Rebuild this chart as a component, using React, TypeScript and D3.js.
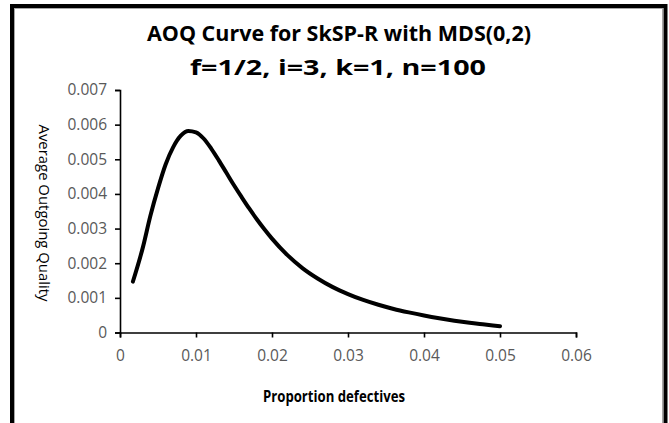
import React, { useEffect, useRef } from 'react';
import * as d3 from 'd3';

// values
const proportion = [
  0.0017, 0.003, 0.004, 0.005, 0.006, 0.007, 0.008, 0.009, 0.01, 0.011, 0.012, 0.013,
  0.014, 0.015, 0.016, 0.017, 0.018, 0.019, 0.02, 0.022, 0.024, 0.026, 0.028, 0.03, 0.032,
  0.034, 0.036, 0.038, 0.04, 0.042, 0.044, 0.046, 0.048, 0.05,
];
const aoq = [
  0.00147, 0.00245, 0.00337, 0.00416, 0.00485, 0.00535, 0.00568, 0.00582, 0.00578, 0.0056,
  0.00531, 0.00497, 0.00461, 0.00425, 0.00391, 0.00358, 0.00327, 0.00298, 0.00271, 0.00224,
  0.00186, 0.00156, 0.00131, 0.00111, 0.00094, 0.0008, 0.00068, 0.00058, 0.00049, 0.00041,
  0.00034, 0.00028, 0.00023, 0.00018,
];
const xTicks = [0, 0.01, 0.02, 0.03, 0.04, 0.05, 0.06];
const yTicks = [0, 0.001, 0.002, 0.003, 0.004, 0.005, 0.006, 0.007];
const titleLines = ['AOQ Curve for SkSP-R with MDS(0,2)', 'f=1/2, i=3, k=1, n=100'];
const xTitle = 'Proportion defectives';
const yTitle = 'Average Outgoing Quality';

const App = () => {
  const chart = useRef<SVGSVGElement>(null);

  useEffect(() => {
    const svg = d3.select(chart.current);
    svg.selectAll('*').remove();

    var width = 669,
      height = 423,
      left = 120,
      right = 576,
      top = 90,
      bottom = 332.5;

    // white page and double frame
    svg.append('rect').attr('width', width).attr('height', height).attr('fill', '#fff');
    svg
      .append('rect')
      .attr('x', 12)
      .attr('y', 6)
      .attr('width', 653.5)
      .attr('height', 430)
      .attr('fill', 'none')
      .attr('stroke', '#000')
      .attr('stroke-width', 4);
    svg
      .append('rect')
      .attr('x', 14.5)
      .attr('y', 8.5)
      .attr('width', 648)
      .attr('height', 430)
      .attr('fill', 'none')
      .attr('stroke', '#a6a6a6')
      .attr('stroke-width', 1);

    var x = d3.scaleLinear().domain([0, 0.06]).range([left, right]);
    var y = d3.scaleLinear().domain([0, 0.007]).range([bottom, top]);

    const fmt = (digits: number) => (d: any) => (d === 0 ? '0' : d3.format('.' + digits + 'f')(d));

    // axes
    var gx = svg
      .append('g')
      .attr('transform', 'translate(0,' + bottom + ')')
      .call(d3.axisBottom(x).tickValues(xTicks).tickSize(5).tickPadding(12).tickFormat(fmt(2)));
    var gy = svg
      .append('g')
      .attr('transform', 'translate(' + left + ',0)')
      .call(d3.axisLeft(y).tickValues(yTicks).tickSize(5).tickPadding(8).tickFormat(fmt(3)));

    [gx, gy].forEach((g) => {
      g.selectAll('path, line').attr('stroke', '#000').attr('stroke-width', 1.6);
      g.selectAll('text')
        .attr('fill', '#595959')
        .style('font-family', '"Open Sans", sans-serif')
        .style('font-size', '15.5px');
    });

    // the curve
    svg
      .append('path')
      .datum(proportion.map((p, i) => [p, aoq[i]]))
      .attr('fill', 'none')
      .attr('stroke', '#000')
      .attr('stroke-width', 4)
      .attr('stroke-linecap', 'round')
      .attr(
        'd',
        d3
          .line()
          .x((d) => x(d[0]))
          .y((d) => y(d[1]))
          .curve(d3.curveMonotoneX)
      );

    // titles
    svg
      .append('text')
      .attr('x', 339)
      .attr('y', 41)
      .attr('text-anchor', 'middle')
      .attr('textLength', 384)
      .attr('lengthAdjust', 'spacingAndGlyphs')
      .style('font-family', '"Open Sans", sans-serif')
      .style('font-weight', 'bold')
      .style('font-size', '21px')
      .text(titleLines[0]);
    svg
      .append('text')
      .attr('x', 338)
      .attr('y', 75)
      .attr('text-anchor', 'middle')
      .attr('textLength', 296)
      .attr('lengthAdjust', 'spacingAndGlyphs')
      .style('font-family', '"Open Sans", sans-serif')
      .style('font-weight', 'bold')
      .style('font-size', '21px')
      .text(titleLines[1]);

    svg
      .append('text')
      .attr('x', 334)
      .attr('y', 402)
      .attr('text-anchor', 'middle')
      .attr('textLength', 142)
      .attr('lengthAdjust', 'spacingAndGlyphs')
      .style('font-family', '"Open Sans", sans-serif')
      .style('font-weight', 'bold')
      .style('font-size', '15.5px')
      .text(xTitle);

    svg
      .append('text')
      .attr('transform', 'translate(39,213) rotate(90)')
      .attr('text-anchor', 'middle')
      .attr('textLength', 177)
      .attr('lengthAdjust', 'spacingAndGlyphs')
      .style('font-family', '"Open Sans", sans-serif')
      .style('font-size', '15px')
      .text(yTitle);
  }, []);

  return (
    <svg
      ref={chart}
      width={669}
      height={423}
      style={{ position: 'absolute', left: 0, top: 0, display: 'block' }}
    ></svg>
  );
};

export default App;
